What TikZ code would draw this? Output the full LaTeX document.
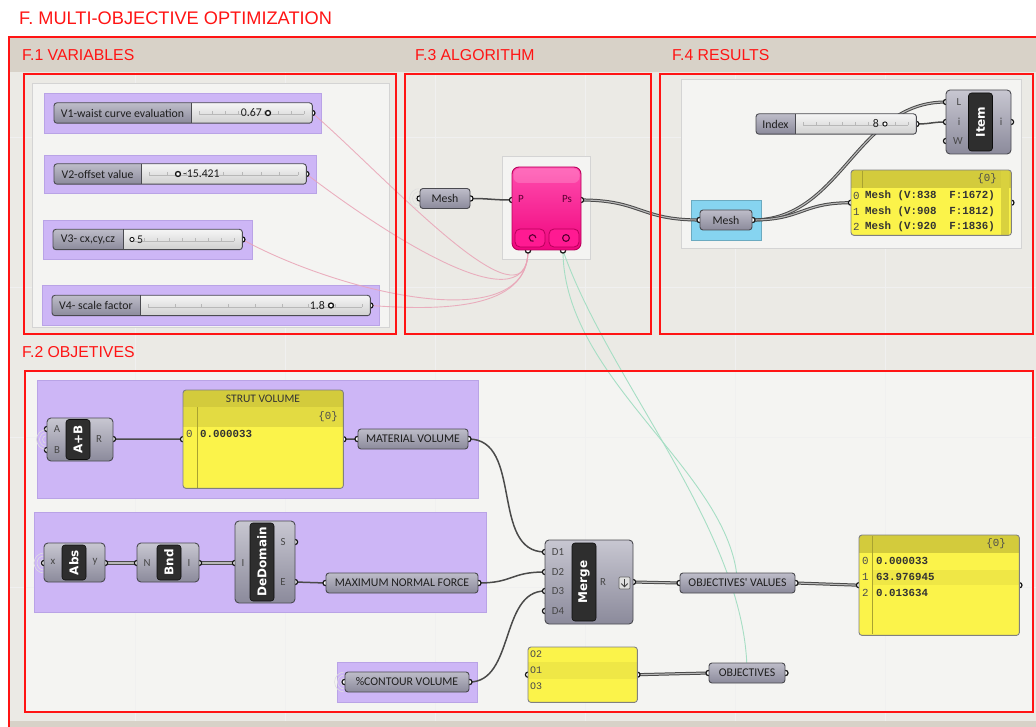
\documentclass[tikz,border=0pt]{standalone}
\usepackage{fontspec}
\usetikzlibrary{calc}
\newfontfamily\ghfont{Carlito}
\newfontfamily\barfont{DejaVu Sans}
\newfontfamily\redfont{Liberation Sans}
\newfontfamily\pmfont{Liberation Mono}

\definecolor{frame}{HTML}{FF1414}
\definecolor{canvasA}{HTML}{D8D2C8}
\definecolor{canvasB}{HTML}{EBEAE5}
\definecolor{canvasC}{HTML}{F4F4F2}
\definecolor{lilac}{HTML}{CDB6F6}
\definecolor{lilacEdge}{HTML}{B9A3E6}
\definecolor{sky}{HTML}{86D4F0}
\definecolor{ghTop}{HTML}{BEBDC9}
\definecolor{ghBot}{HTML}{8B8A9B}
\definecolor{ghEdge}{HTML}{4A4A50}
\definecolor{railTop}{HTML}{F5F5F5}
\definecolor{railBot}{HTML}{D0D0D0}
\definecolor{panelY}{HTML}{FBF34A}
\definecolor{panelH}{HTML}{D3CB3C}
\definecolor{panelH2}{HTML}{E3DB42}
\definecolor{panelRow}{HTML}{EFE746}
\definecolor{wireC}{HTML}{4A4A4A}
\definecolor{pinkW}{HTML}{E9A3B6}
\definecolor{greenW}{HTML}{A6DEC4}
\definecolor{magTop}{HTML}{FF4DAE}
\definecolor{magBot}{HTML}{F0067F}
\definecolor{magEdge}{HTML}{B8005A}
\definecolor{magBtn}{HTML}{FF1A92}
\definecolor{octoText}{HTML}{5A0032}

\pgfdeclarelayer{bg}
\pgfdeclarelayer{wires}
\pgfdeclarelayer{ports}
\pgfsetlayers{bg,wires,ports,main}

% a connection point: small ring half hidden under its node
\newcommand\ghport[1]{\begin{pgfonlayer}{ports}\draw[portst] (#1) circle[radius=2.6pt];\end{pgfonlayer}}
% slider grips
\newcommand\ghknob[1]{\draw[knobst] (#1) circle[radius=2.5pt];}
\newcommand\ghdiamond[1]{\draw[knobst, line width=0.9pt] (#1) circle[radius=2.1pt];}
% faint rings left of an input that has no source
\newcommand\ghghost[1]{%
  \begin{scope}
    \clip ($(#1)+(-13,-13)$) rectangle ($(#1)+(-1,13)$);
    \foreach \r in {4,7,10}{\draw[black!13, line width=0.6pt] (#1) circle[radius=\r pt];}
  \end{scope}}
% number slider: name, left x, centre y, width, label width, label
\newcommand\ghslider[6]{%
  \node[sliderbody, minimum width=#4pt, anchor=west] (#1) at (#2,#3) {};
  \begin{scope}
    \clip[rounded corners=3pt] (#1.south west) rectangle (#1.north east);
    \shade[top color=ghTop, bottom color=ghBot] (#1.south west) rectangle ($(#1.north west)+(#5,0)$);
  \end{scope}
  \draw[draw=ghEdge, line width=0.8pt] ($(#1.north west)+(#5,0)$) -- ($(#1.south west)+(#5,0)$);
  \draw[rounded corners=3pt, draw=ghEdge, line width=0.9pt] (#1.south west) rectangle (#1.north east);
  \node[lab] (#1-name) at ($(#1.west)+(#5/2,0)$) {#6};
  \draw[rail] ($(#1.west)+(#5+8,1.5)$) -- ($(#1.east)+(-8,1.5)$);
  \foreach \k in {0,...,8}{\draw[rail] ($(#1.west)+({#5+8+\k*(#4-#5-16)/8},1.5)$) -- ++(0,-3);}
  \ghport{#1.east}}
% component: name, cx, cy, width, height, bar cx, bar length, title
\newcommand\ghcomp[8]{%
  \node[compbody, minimum width=#4pt, minimum height=#5pt] (#1) at (#2,#3) {};
  \node[compbar, rotate=90, minimum width=#7pt] (#1-bar) at (#6,#3) {#8};}

\begin{document}
\begin{tikzpicture}[x=1pt, y=-1pt,
  portst/.style={fill=white, draw=black!92, line width=1.2pt},
  knobst/.style={fill=white, draw=black!92, line width=1.3pt},
  gridline/.style={draw=black!6, line width=0.8pt},
  grbox/.style={fill=canvasC, draw=black!17, line width=1pt},
  group/.style={fill=lilac, draw=lilacEdge, line width=0.6pt},
  param/.style={rounded corners=3pt, draw=ghEdge, line width=0.9pt, top color=ghTop, bottom color=ghBot,
    minimum height=20pt, inner sep=0pt, font=\ghfont\fontsize{11.8}{13}\selectfont, text=black!88},
  sliderbody/.style={rounded corners=3pt, top color=railTop, bottom color=railBot, minimum height=20pt, inner sep=0pt},
  lab/.style={font=\ghfont\fontsize{11.8}{13}\selectfont, text=black!88, inner sep=0pt},
  plab/.style={font=\ghfont\fontsize{10.8}{12}\selectfont, text=black!72, inner sep=0pt},
  rail/.style={draw=black!28, line width=0.5pt},
  compbody/.style={rounded corners=4pt, draw=ghEdge, line width=0.9pt, top color=ghTop!85!white, bottom color=ghBot, inner sep=0pt},
  compbar/.style={rounded corners=3pt, fill=black!82, draw=black!95, line width=0.6pt, text=white,
    font=\barfont\bfseries\fontsize{12}{12}\selectfont, inner sep=0pt, minimum height=24pt},
  panel/.style={fill=panelY, rounded corners=3pt, inner sep=0pt},
  panelborder/.style={draw=black!50, line width=0.9pt, rounded corners=3pt},
  panelsep/.style={draw=panelH!80!black, line width=0.5pt},
  pm/.style={font=\pmfont\fontsize{10.8}{12}\selectfont, text=black!70, inner sep=0pt, anchor=west},
  pmb/.style={font=\pmfont\bfseries\fontsize{10.8}{12}\selectfont, text=black!80, inner sep=0pt, anchor=west},
  wire/.style={draw=wireC, line width=1.5pt},
  listwire/.style={draw=wireC, line width=1pt, double=black!28, double distance=1.1pt},
  pinkwire/.style={draw=pinkW, line width=0.9pt, opacity=0.85},
  greenwire/.style={draw=greenW, line width=0.9pt},
  octo/.style={rounded corners=7pt, top color=magTop, bottom color=magBot, draw=magEdge, line width=0.9pt, inner sep=0pt},
  octobtn/.style={rounded corners=5pt, fill=magBtn, draw=magEdge, line width=0.8pt, inner sep=0pt},
  octoicon/.style={draw=octoText, line width=1.1pt},
  redframe/.style={draw=frame, line width=1.8pt},
  redlabel/.style={text=frame, font=\redfont\fontsize{15.8}{17}\selectfont, anchor=west, inner sep=0pt}]

\useasboundingbox (0,0) rectangle (1036,727);

% ---------------- canvas, grid and groups ----------------
\begin{pgfonlayer}{bg}
  \fill[white] (0,0) rectangle (1036,727);
  \fill[canvasA] (9,37) rectangle (1036,727);
  \fill[canvasB] (10,72) rectangle (1036,721);
  \fill[canvasC] (25,371) rectangle (1033,712);
  \foreach \x in {135,285,...,885} \draw[gridline] (\x,72) -- (\x,721);
  \foreach \y in {137,287,437,587} \draw[gridline] (10,\y) -- (1036,\y);

  \draw[grbox] (32,84) rectangle (389,327);
  \draw[grbox] (681,80) rectangle (1021,249);
  \draw[grbox] (502,157) rectangle (590,260);

  \draw[group] (44,93) rectangle (321,133);
  \draw[group] (44,155) rectangle (316,193);
  \draw[group] (43,220) rectangle (252,259);
  \draw[group] (42,285) rectangle (379,325);
  \draw[group] (37,380) rectangle (478,498);
  \draw[group] (34,512) rectangle (486,612);
  \draw[group] (337,662) rectangle (477,702);
  \draw[fill=sky, draw=sky!80!black, line width=0.6pt] (691,200) rectangle (761,240);
\end{pgfonlayer}

% ---------------- F.1 variables ----------------
\ghslider{v1}{54}{113}{258}{137}{V1-waist curve evaluation}
\node[lab, anchor=east] (v1-val) at (262,113) {0.67};
\ghknob{268,113}
\ghslider{v2}{54}{174}{252}{87}{V2-offset value}
\ghknob{178,174}
\node[lab, anchor=west] (v2-val) at (183,174) {-15.421};
\ghslider{v3}{53}{239.5}{189}{70}{V3- cx,cy,cz}
\ghdiamond{132,239.5}
\node[lab, anchor=west] (v3-val) at (137,239.5) {5};
\ghslider{v4}{52}{305.5}{318}{88}{V4- scale factor}
\node[lab, anchor=east] (v4-val) at (325,305.5) {1.8};
\ghknob{331,305.5}

% ---------------- F.3 algorithm ----------------
\node[param, minimum width=50pt] (meshA) at (445,198.5) {Mesh};
\ghport{meshA.west}\ghport{meshA.east}
\ghghost{meshA.west}

\node[octo, minimum width=69pt, minimum height=83pt] (octo) at (546.5,208.5) {};
\fill[white, opacity=0.18, rounded corners=6pt] (513.5,168.5) rectangle (579.5,183);
\node[octobtn, minimum width=30pt, minimum height=18pt] (octo-gb) at (530,238) {};
\node[octobtn, minimum width=30pt, minimum height=18pt] (octo-ob) at (564,238) {};
\draw[octoicon] ($(octo-gb.center)+(2.5,0)$) ++(3.3pt,0pt) arc[start angle=0, end angle=290, radius=3.3pt];
\draw[octoicon] ($(octo-ob.center)+(2,0)$) circle[radius=3.4pt];
\node[font=\ghfont\fontsize{11}{12}\selectfont, text=octoText, inner sep=0pt] (octo-pl) at (521,199) {P};
\node[font=\ghfont\fontsize{11}{12}\selectfont, text=octoText, inner sep=0pt] (octo-psl) at (567,199) {Ps};
\coordinate (octo-P) at (512,200);
\coordinate (octo-Ps) at (581,200);
\coordinate (octo-G) at (528,250.5);
\coordinate (octo-O) at (563,250.5);
\ghport{octo-P}\ghport{octo-Ps}\ghport{octo-G}\ghport{octo-O}

% ---------------- F.4 results ----------------
\node[param, minimum width=52pt] (meshB) at (726,220) {Mesh};
\ghport{meshB.west}\ghport{meshB.east}

\ghslider{index}{756}{124}{160}{39}{Index}
\node[lab, anchor=east] (index-val) at (879,124) {8};
\ghdiamond{885,124}

\ghcomp{item}{978.5}{122}{65}{64}{980.5}{58}{Item}
\coordinate (item-L) at (946,102);
\coordinate (item-i) at (946,122);
\coordinate (item-W) at (946,141);
\coordinate (item-o) at (1011,122);
\node[plab] (item-Ll) at (959,102) {L};
\node[plab] (item-il) at (959,122) {i};
\node[plab] (item-Wl) at (958,141) {W};
\node[plab] (item-ol) at (1001,122) {i};
\ghport{item-L}\ghport{item-i}\ghport{item-W}\ghport{item-o}

\node[panel, minimum width=160pt, minimum height=65pt, anchor=north west] (results) at (851,170) {};
\begin{scope}
  \clip[rounded corners=3pt] (results.north west) rectangle (results.south east);
  \fill[panelH] (851,170) rectangle (1011,188);
  \fill[panelH!85!panelY] (1001,170) rectangle (1009,235);
\end{scope}
\draw[panelsep] (862,171) -- (862,188);
\draw[panelborder] (results.north west) rectangle (results.south east);
\node[pm, anchor=east] (results-hd) at (997,179) {\{0\}};
\node[pm] (results-i0) at (853,196) {0};
\node[pmb] (results-r0) at (865,196) {Mesh (V:838\ \ F:1672)};
\node[pm] (results-i1) at (853,212) {1};
\node[pmb] (results-r1) at (865,212) {Mesh (V:908\ \ F:1812)};
\node[pm] (results-i2) at (853,227) {2};
\node[pmb] (results-r2) at (865,227) {Mesh (V:920\ \ F:1836)};
\ghport{results.west}\ghport{results.east}

% ---------------- F.2 objectives: material volume ----------------
\ghcomp{aplusb}{80}{439.5}{66}{43}{78}{40}{A+B}
\coordinate (aplusb-A) at (47,429);
\coordinate (aplusb-B) at (47,450);
\coordinate (aplusb-R) at (113,439);
\node[plab] (aplusb-Al) at (57,429) {A};
\node[plab] (aplusb-Bl) at (57,450) {B};
\node[plab] (aplusb-Rl) at (99,439) {R};
\ghport{aplusb-A}\ghport{aplusb-B}\ghport{aplusb-R}
\ghghost{aplusb.west}

\node[panel, minimum width=160pt, minimum height=98pt, anchor=north west] (strut) at (183,390) {};
\begin{scope}
  \clip[rounded corners=3pt] (strut.north west) rectangle (strut.south east);
  \fill[panelH] (183,390) rectangle (343,407);
  \fill[panelH2] (183,407) rectangle (343,427);
\end{scope}
\draw[panelsep] (197,407) -- (197,488);
\draw[panelborder] (strut.north west) rectangle (strut.south east);
\node[font=\ghfont\fontsize{11.5}{12}\selectfont, text=black!80, inner sep=0pt] (strut-title) at (263,398.5) {STRUT VOLUME};
\node[pm, anchor=east] (strut-hd) at (338,417) {\{0\}};
\node[pm] (strut-i0) at (186,434) {0};
\node[pmb] (strut-r0) at (200,434) {0.000033};
\ghport{strut.west}\ghport{strut.east}

\node[param, minimum width=110pt] (matvol) at (413,439) {MATERIAL VOLUME};
\ghport{matvol.west}\ghport{matvol.east}

% ---------------- F.2 objectives: normal force ----------------
\ghcomp{abs}{74.5}{562.5}{61}{39}{74}{35}{Abs}
\coordinate (abs-x) at (44,563);
\coordinate (abs-y) at (105,563);
\node[plab] (abs-xl) at (53,562) {x};
\node[plab] (abs-yl) at (95,562) {y};
\ghport{abs-x}\ghport{abs-y}
\ghghost{abs-x}

\ghcomp{bnd}{168}{562.5}{62}{39}{169}{35}{Bnd}
\coordinate (bnd-N) at (137,563);
\coordinate (bnd-I) at (199,563);
\node[plab] (bnd-Nl) at (147,563) {N};
\node[plab] (bnd-Il) at (189,563) {I};
\ghport{bnd-N}\ghport{bnd-I}

\ghcomp{dd}{265}{562}{60}{82}{262}{78}{DeDomain}
\coordinate (dd-I) at (235,563);
\coordinate (dd-S) at (295,542);
\coordinate (dd-E) at (295,582);
\node[plab] (dd-Il) at (243,563) {I};
\node[plab] (dd-Sl) at (283,542) {S};
\node[plab] (dd-El) at (283,582) {E};
\ghport{dd-I}\ghport{dd-S}\ghport{dd-E}

\node[param, minimum width=152pt] (maxnf) at (402,583) {MAXIMUM NORMAL FORCE};
\ghport{maxnf.west}\ghport{maxnf.east}

% ---------------- F.2 objectives: contour, merge, outputs ----------------
\node[param, minimum width=124pt] (contour) at (407,682) {\%CONTOUR VOLUME};
\ghport{contour.west}\ghport{contour.east}
\ghghost{contour.west}

\ghcomp{merge}{589}{582}{88}{84}{584}{78}{Merge}
\coordinate (merge-D1) at (545,552);
\coordinate (merge-D2) at (545,572);
\coordinate (merge-D3) at (545,591);
\coordinate (merge-D4) at (545,611);
\coordinate (merge-R) at (633,582);
\node[plab] (merge-D1l) at (558,552) {D1};
\node[plab] (merge-D2l) at (558,572) {D2};
\node[plab] (merge-D3l) at (558,591) {D3};
\node[plab] (merge-D4l) at (558,611) {D4};
\node[plab] (merge-Rl) at (603,582) {R};
\coordinate (merge-icon) at (624.5,583);
\draw[draw=black!60, fill=black!12, line width=0.7pt, rounded corners=1.2pt] ($(merge-icon)+(-5.5,-6)$) rectangle ($(merge-icon)+(5.5,6)$);
\draw[black!75, line width=0.9pt] ($(merge-icon)+(0,-4)$) -- ($(merge-icon)+(0,3.5)$);
\draw[black!75, line width=0.9pt] ($(merge-icon)+(-3.2,0.5)$) -- ($(merge-icon)+(0,3.7)$) -- ($(merge-icon)+(3.2,0.5)$);
\ghport{merge-D1}\ghport{merge-D2}\ghport{merge-D3}\ghport{merge-D4}\ghport{merge-R}

\node[param, minimum width=115pt] (objval) at (737.5,583) {OBJECTIVES' VALUES};
\ghport{objval.west}\ghport{objval.east}

\node[panel, minimum width=160pt, minimum height=100pt, anchor=north west] (ovpanel) at (859,535) {};
\begin{scope}
  \clip[rounded corners=3pt] (ovpanel.north west) rectangle (ovpanel.south east);
  \fill[panelH] (859,535) rectangle (1019,553);
  \fill[panelRow] (872,569.5) rectangle (1019,585);
\end{scope}
\draw[panelsep] (872,536) -- (872,634);
\draw[panelborder] (ovpanel.north west) rectangle (ovpanel.south east);
\node[pm, anchor=east] (ovpanel-hd) at (1006,544) {\{0\}};
\node[pm] (ovpanel-i0) at (862,561) {0};
\node[pmb] (ovpanel-r0) at (876,561) {0.000033};
\node[pm] (ovpanel-i1) at (862,577) {1};
\node[pmb] (ovpanel-r1) at (876,577) {63.976945};
\node[pm] (ovpanel-i2) at (862,593) {2};
\node[pmb] (ovpanel-r2) at (876,593) {0.013634};
\ghport{ovpanel.west}\ghport{ovpanel.east}

\node[panel, minimum width=109pt, minimum height=55pt, anchor=north west] (objpanel) at (528,647) {};
\begin{scope}
  \clip[rounded corners=3pt] (objpanel.north west) rectangle (objpanel.south east);
  \fill[panelRow] (528,662) rectangle (637,678.5);
\end{scope}
\draw[panelborder] (objpanel.north west) rectangle (objpanel.south east);
\node[pm, font=\pmfont\fontsize{10}{11}\selectfont] (objpanel-r0) at (530,654) {O2};
\node[pm, font=\pmfont\fontsize{10}{11}\selectfont] (objpanel-r1) at (530,670) {O1};
\node[pm, font=\pmfont\fontsize{10}{11}\selectfont] (objpanel-r2) at (530,686) {O3};
\ghport{objpanel.west}\ghport{objpanel.east}

\node[param, minimum width=76pt] (objs) at (747,673) {OBJECTIVES};
\ghport{objs.west}\ghport{objs.east}

% ---------------- wires ----------------
\begin{pgfonlayer}{wires}
  % genes into the solver
  \draw[pinkwire] (v1.east) .. controls +(75,65) and +(0,85) .. (octo-G);
  \draw[pinkwire] (v2.east) .. controls +(65,50) and +(0,80) .. (octo-G);
  \draw[pinkwire] (v3.east) .. controls +(90,50) and +(0,90) .. (octo-G);
  \draw[pinkwire] (v4.east) .. controls +(70,5) and +(0,60) .. (octo-G);
  % objectives into the solver
  \draw[greenwire] (octo-O) .. controls +(0,130) and +(-5,-110) .. (objval.center);
  \draw[greenwire] (octo-O) .. controls +(45,130) and +(0,-140) .. (objs.center);

  \draw[wire] (meshA.east) .. controls +(20,0) and +(-20,0) .. (octo-P);
  \draw[listwire] (octo-Ps) .. controls +(60,0) and +(-60,0) .. (meshB.west);
  \draw[listwire] (meshB.east) .. controls +(90,0) and +(-90,0) .. (item-L);
  \draw[listwire] (meshB.east) .. controls +(50,0) and +(-50,0) .. (results.west);
  \draw[wire] (index.east) .. controls +(15,0) and +(-15,0) .. (item-i);

  \draw[wire] (aplusb-R) -- (strut.west);
  \draw[wire] (strut.east) -- (matvol.west);
  \draw[wire] (matvol.east) .. controls +(55,0) and +(-55,0) .. (merge-D1);
  \draw[listwire] (abs-y) -- (bnd-N);
  \draw[listwire] (bnd-I) -- (dd-I);
  \draw[wire] (dd-E) .. controls +(15,0) and +(-15,0) .. (maxnf.west);
  \draw[wire] (maxnf.east) .. controls +(35,0) and +(-35,0) .. (merge-D2);
  \draw[wire] (contour.east) .. controls +(45,0) and +(-45,0) .. (merge-D3);
  \draw[listwire] (merge-R) -- (objval.west);
  \draw[listwire] (objval.east) -- (ovpanel.west);
  \draw[listwire] (objpanel.east) -- (objs.west);
\end{pgfonlayer}

% ---------------- red annotation frames ----------------
\draw[redframe] (9,37) rectangle (1040,745);
\draw[redframe] (24,74) rectangle (396,334);
\draw[redframe] (405,74) rectangle (651,334);
\draw[redframe] (660,74) rectangle (1033,334);
\draw[redframe] (25,371) rectangle (1033,712);

\node[redlabel, font=\redfont\fontsize{18.2}{20}\selectfont] (title) at (19,18) {F. MULTI-OBJECTIVE OPTIMIZATION};
\node[redlabel] (lab-f1) at (22,55) {F.1 VARIABLES};
\node[redlabel] (lab-f3) at (415,55) {F.3 ALGORITHM};
\node[redlabel] (lab-f4) at (672,55) {F.4 RESULTS};
\node[redlabel] (lab-f2) at (22,352) {F.2 OBJETIVES};
\end{tikzpicture}
\end{document}
